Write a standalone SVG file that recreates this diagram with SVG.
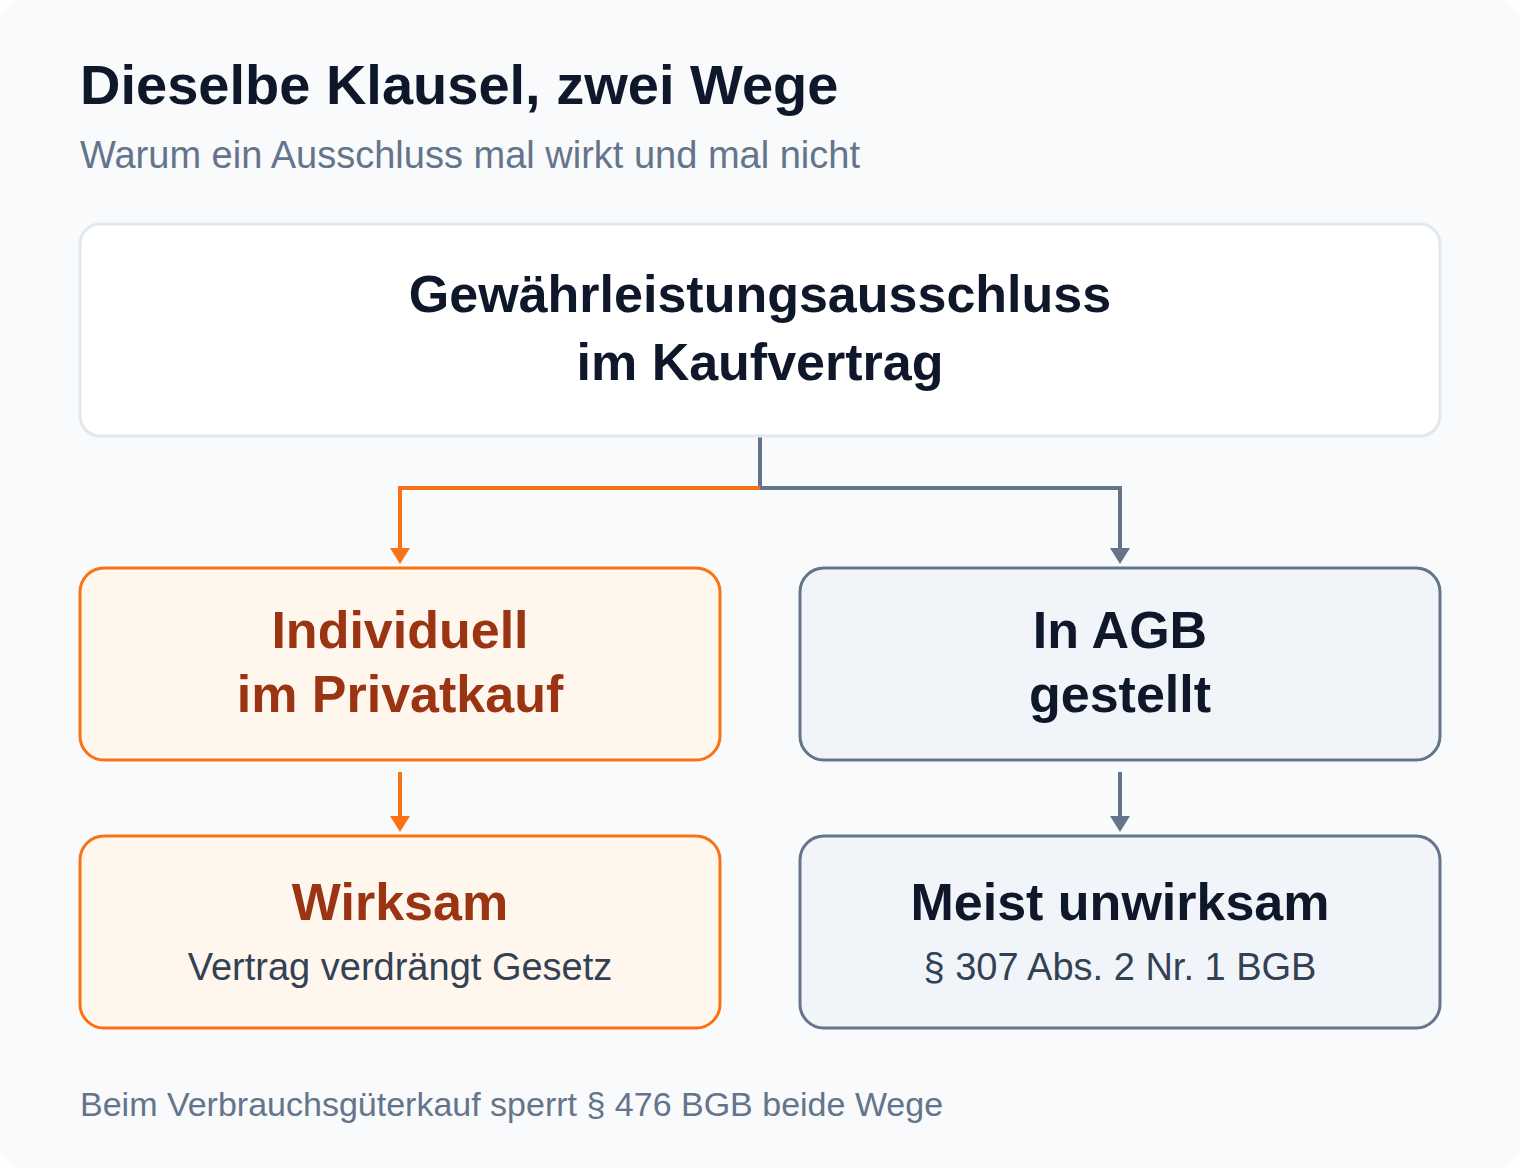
<svg xmlns="http://www.w3.org/2000/svg" width="1520" height="1168" viewBox="0 0 1520 1168">
<style>
text{font-family:"Liberation Sans",Arial,sans-serif}
.title{font-size:56px;font-weight:700;fill:#0f172a}
.sub{font-size:38px;fill:#64748b}
.foot{font-size:34px;fill:#64748b}
.h{font-size:52px;font-weight:700;text-anchor:middle}
.dark{fill:#0f172a}
.rust{fill:#9a3412}
.small{font-size:38px;fill:#334155;text-anchor:middle}
.box-o{fill:#fff7ed;stroke:#f97316;stroke-width:3}
.box-s{fill:#f1f5f9;stroke:#64748b;stroke-width:3}
.box-t{fill:#ffffff;stroke:#e2e8f0;stroke-width:3}
.c-o{fill:none;stroke:#f97316;stroke-width:4}
.c-s{fill:none;stroke:#64748b;stroke-width:4}
</style>
<defs>
<marker id="ao" viewBox="0 0 16 20" refX="0" refY="10" markerWidth="16" markerHeight="20" markerUnits="userSpaceOnUse" orient="auto"><path d="M0,0 L16,10 L0,20 z" fill="#f97316"/></marker>
<marker id="as" viewBox="0 0 16 20" refX="0" refY="10" markerWidth="16" markerHeight="20" markerUnits="userSpaceOnUse" orient="auto"><path d="M0,0 L16,10 L0,20 z" fill="#64748b"/></marker>
</defs>
<rect x="0" y="0" width="1520" height="1168" rx="24" fill="#f8fafc"/>
<text class="title" x="80" y="104">Dieselbe Klausel, zwei Wege</text>
<text class="sub" x="80" y="168">Warum ein Ausschluss mal wirkt und mal nicht</text>
<g id="connectors">
<path class="c-s" d="M760,436 V488 H1120 V548" marker-end="url(#as)"/>
<path class="c-o" d="M760,488 H400 V548" marker-end="url(#ao)"/>
<path class="c-o" d="M400,772 V816" marker-end="url(#ao)"/>
<path class="c-s" d="M1120,772 V816" marker-end="url(#as)"/>
</g>
<g id="top">
<rect class="box-t" x="80" y="224" width="1360" height="212" rx="20"/>
<text class="h dark" x="760" y="312">Gewährleistungsausschluss</text>
<text class="h dark" x="760" y="380">im Kaufvertrag</text>
</g>
<g id="individuell">
<rect class="box-o" x="80" y="568" width="640" height="192" rx="24"/>
<text class="h rust" x="400" y="648">Individuell</text>
<text class="h rust" x="400" y="712">im Privatkauf</text>
</g>
<g id="agb">
<rect class="box-s" x="800" y="568" width="640" height="192" rx="24"/>
<text class="h dark" x="1120" y="648">In AGB</text>
<text class="h dark" x="1120" y="712">gestellt</text>
</g>
<g id="wirksam">
<rect class="box-o" x="80" y="836" width="640" height="192" rx="24"/>
<text class="h rust" x="400" y="920">Wirksam</text>
<text class="small" x="400" y="980">Vertrag verdrängt Gesetz</text>
</g>
<g id="unwirksam">
<rect class="box-s" x="800" y="836" width="640" height="192" rx="24"/>
<text class="h dark" x="1120" y="920">Meist unwirksam</text>
<text class="small" x="1120" y="980">§ 307 Abs. 2 Nr. 1 BGB</text>
</g>
<text class="foot" x="80" y="1116">Beim Verbrauchsgüterkauf sperrt § 476 BGB beide Wege</text>
</svg>
